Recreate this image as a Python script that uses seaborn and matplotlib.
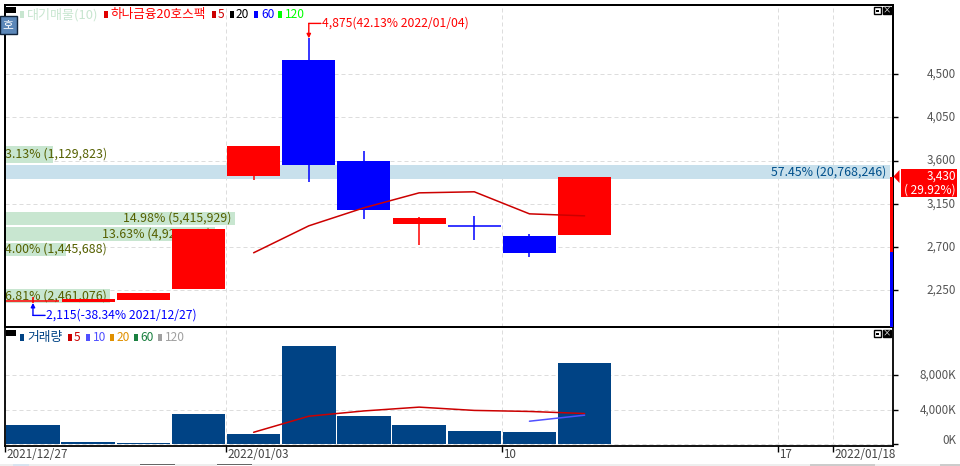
import matplotlib
matplotlib.use("Agg")
import matplotlib.pyplot as plt
from matplotlib.patches import Rectangle, Polygon
from matplotlib.transforms import ScaledTranslation
import numpy as np
import pandas as pd
import seaborn as sns

W, H = 960, 466
FONT = ['Noto Sans CJK KR', 'DejaVu Sans']

# ---- data ----
days = [0, 1, 2, 3, 4, 5, 6, 7, 8, 9, 10]
opens = [2135, 2120, 2146, 2260, 3440, 4649, 3597, 2933, 2920, 2815, 2826]
closes = [2135, 2156, 2219, 2886, 3753, 3555, 3086, 3003, 2919, 2638, 3430]
highs = [2175, 2156, 2219, 2886, 3753, 4875, 3701, 3013, 3023, 2836, 3430]
lows = [2115, 2120, 2146, 2260, 3398, 3378, 2992, 2721, 2773, 2596, 2826]
ma5_days = [4, 5, 6, 7, 8, 9, 10]
ma5 = [2638, 2919, 3107, 3263, 3274, 3044, 3023]
volume_k = [2240, 270, 150, 3510, 1190, 11400, 3280, 2240, 1540, 1430, 9430]
vol_ma5_days = [4, 5, 6, 7, 8, 9, 10]
vol_ma5 = [1390, 3250, 3860, 4300, 3920, 3800, 3560]
vol_ma10_days = [9, 10]
vol_ma10 = [2670, 3370]
profile_price = [3665, 3482, 2997, 2836, 2674, 2190]
profile_span = [177, 146, 135, 146, 135, 146]
profile_pct = [3.13, 57.45, 14.98, 13.63, 4.00, 6.81]
profile_label = ["3.13% (1,129,823)", "57.45% (20,768,246)", "14.98% (5,415,929)",
                 "13.63% (4,926,886)", "4.00% (1,445,688)", "6.81% (2,461,076)"]
price_ticks = [2250, 2700, 3150, 3600, 4050, 4500]
vol_ticks = [0, 4000, 8000]
date_pos = [-0.5, 3.5, 8.5, 13.5, 14.5]
date_labels = ["2021/12/27", "2022/01/03", "10", "17", "2022/01/18"]

sns.set_theme(style="white")
plt.rcParams['font.family'] = FONT
plt.rcParams['axes.unicode_minus'] = False

fig = plt.figure(figsize=(W / 100, H / 100), dpi=100, facecolor='white')


def box(l, t, r, b):
    return [l / W, 1 - b / H, (r - l) / W, (b - t) / H]


def ftext(x, y, s, color, size=8.2, ha='left', **kw):
    return fig.text(x / W, 1 - y / H, s, color=color, fontsize=size, ha=ha, va='center', zorder=20, **kw)


def frect(l, t, r, b, color, **kw):
    fig.add_artist(Rectangle((l / W, 1 - b / H), (r - l) / W, (b - t) / H, transform=fig.transFigure,
                             facecolor=color, edgecolor=kw.pop('ec', 'none'), lw=kw.pop('lw', 0), zorder=kw.pop('zorder', 15)))


XLIM = (-0.516, 15.59)
GRID = dict(color='#dddddd', lw=0.72, ls=(0, (4, 3)))
up_shift = ScaledTranslation(0, 1.5 / 100, fig.dpi_scale_trans)

# ---- price panel ----
ax = fig.add_axes(box(4.5, 5, 893, 327))
ax.set_xlim(*XLIM)
ax.set_ylim(1864, 5222)
ax.set_xticks(date_pos)
ax.set_yticks(price_ticks)
ax.grid(True, **GRID)
ax.set_axisbelow(True)
ax.yaxis.tick_right()
ax.set_yticklabels([f"{v:,}" for v in price_ticks])
ax.tick_params(axis='y', length=3.6, width=1, color='black', pad=41.8, labelsize=8.4, labelcolor='#555555')
for t in ax.get_yticklabels():
    t.set_ha('right')
    t.set_transform(t.get_transform() + up_shift)
ax.tick_params(axis='x', length=0, labelbottom=False)

prof = ax.twiny()
prof.set_xlim(0, 888.5 / 15.42)
prof.set_zorder(ax.get_zorder() + 1)
prof.patch.set_visible(False)
prof.tick_params(axis='x', length=0, labeltop=False)
prof.grid(False)
for p, sp, pc, lab in zip(profile_price, profile_span, profile_pct, profile_label):
    blue = pc > 50
    prof.barh(p, pc, height=sp, color='#c8e0ec' if blue else '#c8e6d0', lw=0)
    col = '#00508c' if blue else '#556000'
    if pc > 10:
        prof.annotate(lab, (pc, p), xytext=(-3, 0), textcoords='offset points', ha='right', va='center',
                      color=col, fontsize=8.9)
    else:
        prof.annotate(lab, (0, p), xytext=(0.5, 0), textcoords='offset points', ha='left', va='center',
                      color=col, fontsize=8.9)

cand = ax.twiny()
cand.set_xlim(*XLIM)
cand.set_zorder(prof.get_zorder() + 1)
cand.patch.set_visible(False)
cand.tick_params(axis='x', length=0, labeltop=False)
cand.grid(False)
for d, o, c, h, l in zip(days, opens, closes, highs, lows):
    col = '#ff0000' if c >= o else '#0000ff'
    cand.vlines(d, l, h, color=col, lw=1.1, zorder=2)
    lo, hi = min(o, c), max(o, c)
    if hi - lo < 12:
        cand.hlines(lo, d - 0.48, d + 0.48, color=col, lw=1.1, zorder=3)
    else:
        cand.bar(d, hi - lo, bottom=lo, width=0.96, color=col, lw=0, zorder=3)
sns.lineplot(x=ma5_days, y=ma5, color='#cc0000', lw=1.1, ax=cand, zorder=4, legend=False)
cand.set_xlim(*XLIM)
cand.set_ylim(1864, 5222)
cand.set_xlabel('')
cand.set_ylabel('')

# high / low callouts
cand.annotate("", xy=(5, 4875), xytext=(5, 5030),
              arrowprops=dict(arrowstyle='-|>', color='#ff0000', lw=1, mutation_scale=6, shrinkA=0, shrinkB=0))
cand.annotate("", xy=(5, 5030), xytext=(5.22, 5030),
              arrowprops=dict(arrowstyle='-', color='#ff0000', lw=1, shrinkA=0, shrinkB=0))
cand.annotate("4,875(42.13% 2022/01/04)", (5.22, 5030), xytext=(0.5, 0), textcoords='offset points',
              color='#ff0000', fontsize=8.75, va='center')
cand.annotate("", xy=(0, 2115), xytext=(0, 1985),
              arrowprops=dict(arrowstyle='-|>', color='#0000ff', lw=1, mutation_scale=6, shrinkA=0, shrinkB=0))
cand.annotate("", xy=(0, 1985), xytext=(0.22, 1985),
              arrowprops=dict(arrowstyle='-', color='#0000ff', lw=1, shrinkA=0, shrinkB=0))
cand.annotate("2,115(-38.34% 2021/12/27)", (0.22, 1985), xytext=(0.5, 0), textcoords='offset points',
              color='#0000ff', fontsize=8.75, va='center')

# ---- volume panel ----
axv = fig.add_axes(box(4.5, 327, 893, 446))
df = pd.DataFrame({'day': days, 'vol': volume_k})
sns.barplot(data=df, x='day', y='vol', native_scale=True, width=0.97, color='#004385', saturation=1,
            ax=axv, zorder=3, linewidth=0)
sns.lineplot(x=vol_ma5_days, y=vol_ma5, color='#cc0000', lw=1.1, ax=axv, zorder=4, legend=False)
sns.lineplot(x=vol_ma10_days, y=vol_ma10, color='#5050ff', lw=1.1, ax=axv, zorder=5, legend=False)
axv.set_xlim(*XLIM)
axv.set_ylim(-197, 13570)
axv.set_xlabel('')
axv.set_ylabel('')
axv.set_xticks(date_pos)
axv.set_xticklabels(date_labels, ha='left', fontsize=8.4, color='#444444')
axv.set_yticks(vol_ticks)
axv.yaxis.tick_right()
axv.set_yticklabels([f"{v:,}K" for v in vol_ticks])
axv.grid(True, **GRID)
axv.set_axisbelow(True)
axv.tick_params(axis='y', length=3.6, width=1, color='black', pad=41.8, labelsize=8.4, labelcolor='#555555')
for v, t in zip(vol_ticks, axv.get_yticklabels()):
    t.set_ha('right')
    # the lowest label sits a few pixels above its tick in the reference
    t.set_transform(t.get_transform() + (ScaledTranslation(0, 5 / 100, fig.dpi_scale_trans) if v == 0 else up_shift))
axv.tick_params(axis='x', bottom=True, length=4.3, width=1, color='black', pad=-2.5)
for t in axv.get_xticklabels():
    t.set_transform(t.get_transform() + ScaledTranslation(1.5 / 100, 0, fig.dpi_scale_trans))

for a in (ax, prof, cand, axv):
    for s in a.spines.values():
        s.set_color('black')
        s.set_linewidth(1.3)

# ---- chart furniture ----
ftext(27, 14.5, "대기매물(10)", '#c8e6d0', size=9.4)
ftext(110, 14.5, "하나금융20호스팩", '#ff0000', size=9.1)
ftext(218, 14.5, "5", '#cc0000', size=8.6)
ftext(236, 14.5, "20", '#000000', size=8.6)
ftext(261, 14.5, "60", '#0000ff', size=8.6)
ftext(285, 14.5, "120", '#00ff00', size=8.6)
for x, c in [(20, '#c8e6d0'), (104, '#e00000'), (212, '#cc0000'), (230, '#000000'), (254, '#0000ff'), (278, '#00ff00')]:
    frect(x, 11, x + 3.5, 18, c)
frect(6, 7, 16, 12.5, '#000000')
frect(0, 16, 16.5, 33.5, '#5b87b8', ec='#10243c', lw=1)
ftext(8, 25, "호", 'white', ha='center', size=8.5)

ftext(27, 337.5, "거래량", '#004385', size=9.2)
ftext(74, 337.5, "5", '#cc0000', size=8.6)
ftext(93, 337.5, "10", '#5050ff', size=8.6)
ftext(117, 337.5, "20", '#e09000', size=8.6)
ftext(140, 337.5, "60", '#1a8040', size=8.6)
ftext(165, 337.5, "120", '#a0a0a0', size=8.6)
for x, c in [(20, '#004385'), (68, '#cc0000'), (86, '#5050ff'), (110, '#e09000'), (134, '#1a8040'), (158, '#a0a0a0')]:
    frect(x, 334, x + 3.5, 341, c)
frect(6, 330, 16, 335.5, '#000000')

for yy in (7, 330):
    frect(873.5, yy, 880.5, yy + 7, 'white', ec='black', lw=1)
    frect(875.5, yy + 2.5, 878.5, yy + 4.5, 'black')
    frect(883, yy, 890.5, yy + 7, 'black', ec='black', lw=1)
    ftext(886.7, yy + 3.2, "×", 'white', ha='center', size=6)

# current price marker
frect(890, 177, 893, 252, '#ff0000')
frect(890, 252, 893, 327, '#0000ff')
fig.add_artist(Polygon([(893.5 / W, 1 - 176.5 / H), (899.5 / W, 1 - 170 / H), (899.5 / W, 1 - 183 / H)],
                       transform=fig.transFigure, facecolor='#ff0000', lw=0, zorder=16))
frect(901, 169, 957, 197, '#ff0000')
ftext(956, 176.5, "3,430", 'white', ha='right', size=8.6)
ftext(956, 190, "( 29.92%)", 'white', ha='right', size=8.6)

# window scrollbar strip along the bottom edge
frect(0, 464, 960, 466, '#eeeeee')
frect(13, 464, 29, 466, '#d8e4f0')
frect(140, 464, 175, 466, '#ffffff')
frect(140, 464, 175, 464.8, '#666666')
frect(217, 464, 252, 466, '#ffffff')
frect(217, 464, 252, 464.8, '#666666')
frect(810, 464, 875, 466, '#cccccc')
frect(940, 464, 960, 466, '#cccccc')

fig.savefig("out.png", dpi=100, facecolor='white')
